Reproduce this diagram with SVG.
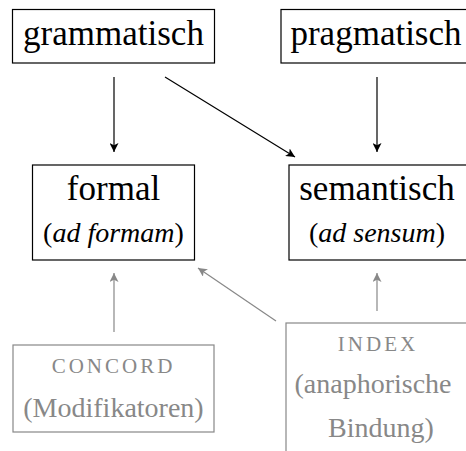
<svg xmlns="http://www.w3.org/2000/svg" width="466" height="451" viewBox="0 0 466 451">
<defs>
<style>
.box{fill:#fff;stroke:#000;stroke-width:1.2}
.gbox{fill:#fff;stroke:#888;stroke-width:1.2}
text{font-family:'Liberation Serif','Times New Roman',serif;fill:#000;text-anchor:middle}
.big{font-size:35px}
.sub{font-size:28px}
.g{fill:#888}
.sc{font-size:21px;letter-spacing:3px}
.e{stroke:#000;stroke-width:1.2;fill:none}
.ge{stroke:#888;stroke-width:1.2;fill:none}
</style>
<marker id="ah" viewBox="0 0 10 10" refX="10" refY="5" markerWidth="9" markerHeight="9" markerUnits="userSpaceOnUse" orient="auto">
<path d="M0,0 L10,5 L0,10 L2.5,5 Z" fill="#000"/>
</marker>
<marker id="gah" viewBox="0 0 10 10" refX="10" refY="5" markerWidth="9" markerHeight="9" markerUnits="userSpaceOnUse" orient="auto">
<path d="M0,0 L10,5 L0,10 L2.5,5 Z" fill="#888"/>
</marker>
</defs>
<g id="connectors">
<line class="e" x1="114" y1="77" x2="114" y2="152" marker-end="url(#ah)"/>
<line class="e" x1="165" y1="77" x2="295" y2="157" marker-end="url(#ah)"/>
<line class="e" x1="377" y1="77" x2="377" y2="152" marker-end="url(#ah)"/>
<line class="ge" x1="114" y1="332" x2="114" y2="273" marker-end="url(#gah)"/>
<line class="ge" x1="276" y1="321" x2="198" y2="268" marker-end="url(#gah)"/>
<line class="ge" x1="377" y1="311" x2="377" y2="273" marker-end="url(#gah)"/>
</g>
<g id="grammatisch">
<rect class="box" x="12.5" y="9.5" width="202" height="53.5"/>
<text class="big" x="113.5" y="45">grammatisch</text>
</g>
<g id="pragmatisch">
<rect class="box" x="281" y="9.5" width="196" height="53.5"/>
<text class="big" x="376" y="45">pragmatisch</text>
</g>
<g id="formal">
<rect class="box" x="32.5" y="165" width="162" height="95"/>
<text class="big" x="113.5" y="200">formal</text>
<text class="sub" x="113.5" y="242">(<tspan font-style="italic">ad formam</tspan>)</text>
</g>
<g id="semantisch">
<rect class="box" x="289" y="165" width="190" height="95"/>
<text class="big" x="377" y="200">semantisch</text>
<text class="sub" x="377" y="242">(<tspan font-style="italic">ad sensum</tspan>)</text>
</g>
<g id="concord">
<rect class="gbox" x="13" y="345" width="201" height="87"/>
<text class="g sc" x="113.5" y="373">CONCORD</text>
<text class="sub g" x="113.5" y="417">(Modifikatoren)</text>
</g>
<g id="index">
<rect class="gbox" x="286" y="323" width="190" height="140"/>
<text class="g sc" x="378" y="351">INDEX</text>
<text class="sub g" x="373" y="393">(anaphorische</text>
<text class="sub g" x="381" y="437">Bindung)</text>
</g>
</svg>
